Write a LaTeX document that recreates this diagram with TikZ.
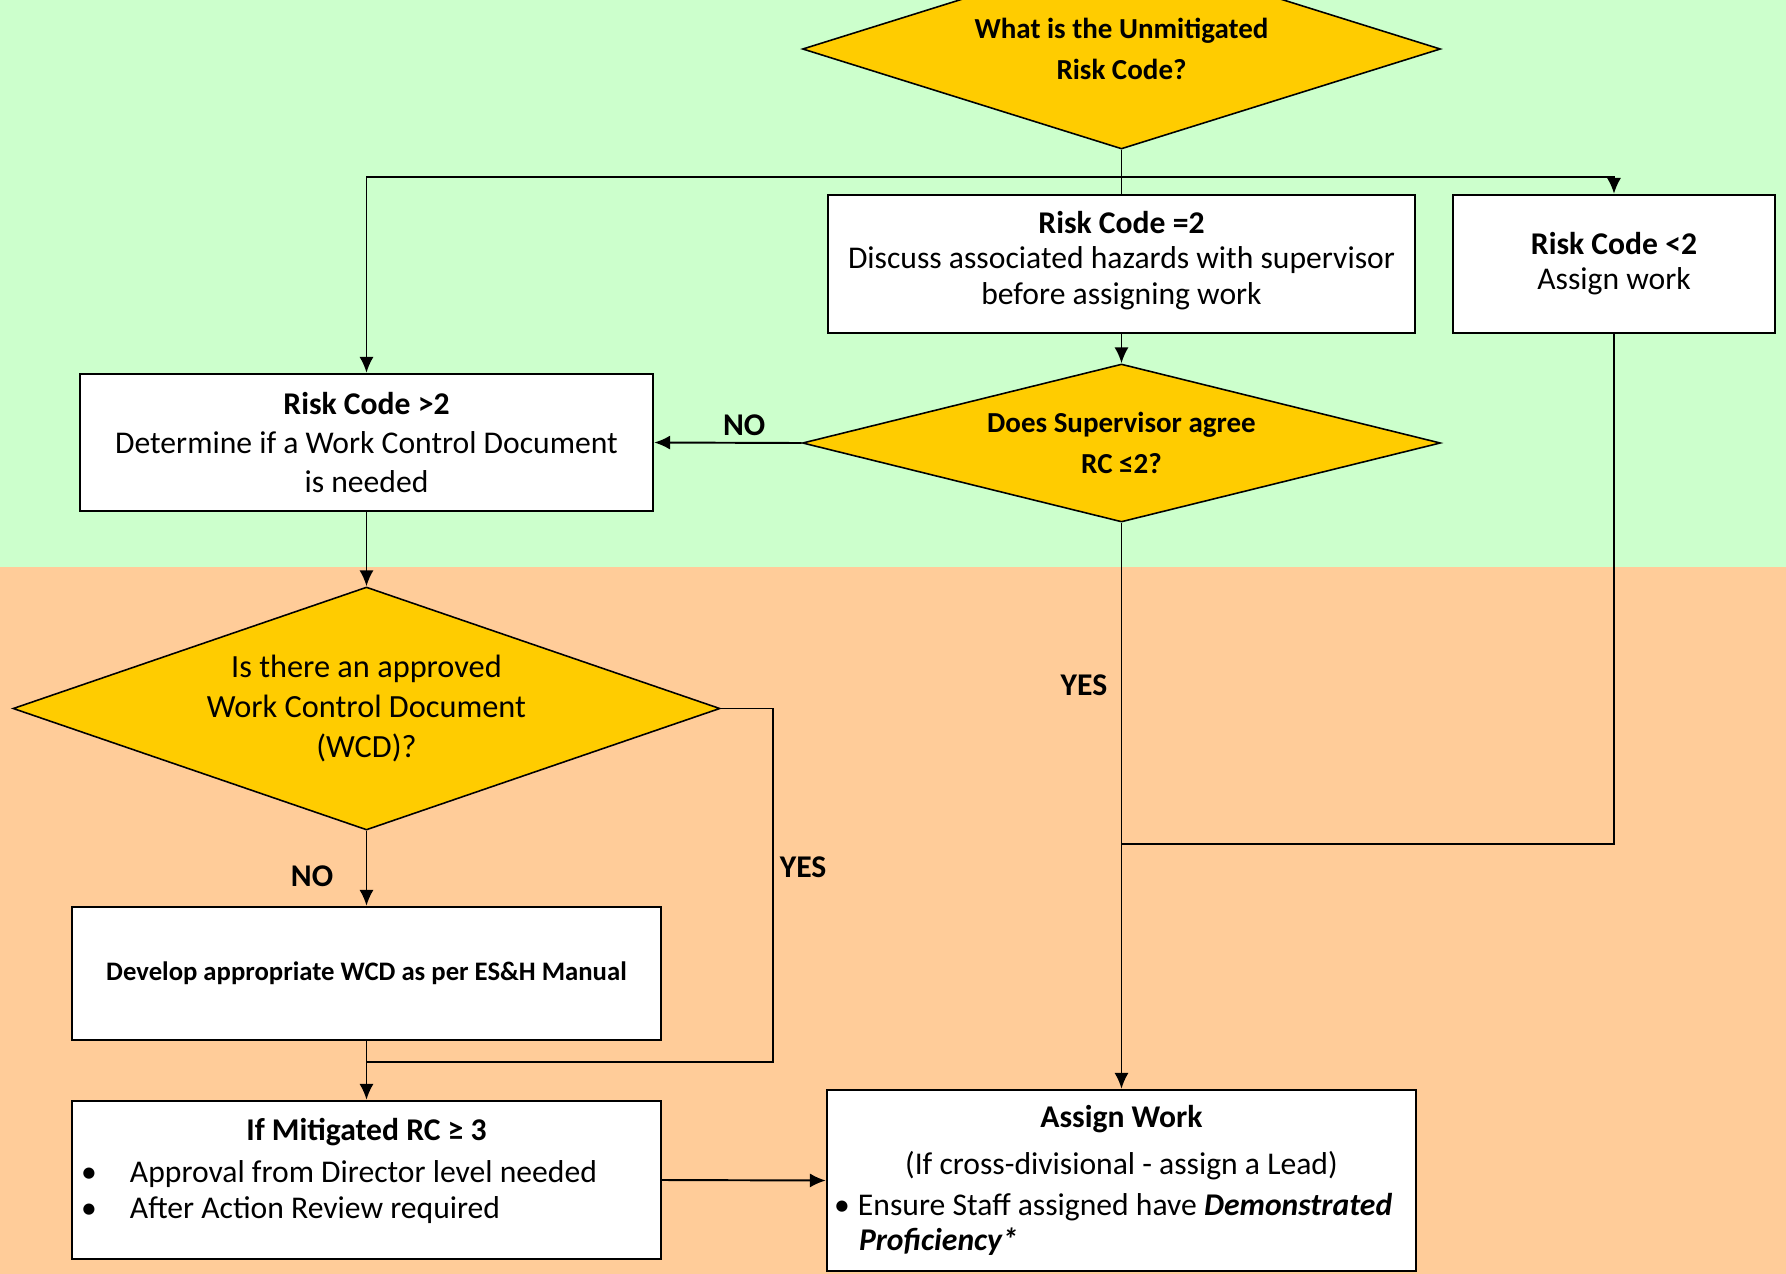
\documentclass[tikz,border=0pt]{standalone}
\usepackage{fontspec}
\setmainfont{Carlito}
\usetikzlibrary{shapes, arrows.meta}

\definecolor{zonegreen}{HTML}{CCFFCC}
\definecolor{zoneorange}{HTML}{FFCC99}
\definecolor{askgold}{HTML}{FFCC00}

\begin{document}
\begin{tikzpicture}[
block/.style={rectangle, align=center, draw=black, fill=white, line width=1.4pt,
inner sep=2pt, font=\fontsize{18}{20}\selectfont},
decision/.style={diamond, align=center, draw=black, fill=askgold, line width=0.9pt,
inner sep=0pt, font=\fontsize{16.5}{23}\selectfont\bfseries},
answer/.style={font=\fontsize{18}{20}\selectfont\bfseries},
line/.style={draw, line width=1.1pt, -{Latex[length=9pt, width=8pt]}},
link/.style={draw, line width=1.1pt}
]
\useasboundingbox (0,0) rectangle (35.72,-25.48);
\fill [zonegreen] (0,0) rectangle (35.72,-11.34);
\fill [zoneorange] (0,-11.34) rectangle (35.72,-25.48);

\node [decision, aspect=3.19, minimum width=12.76cm, minimum height=4cm] (unmitigated) at (22.43,-0.98)
{What is the Unmitigated\\Risk Code?};
\node [block, minimum width=11.74cm, minimum height=2.76cm] (equal-two) at (22.43,-5.28)
{\textbf{Risk Code =2}\\Discuss associated hazards with supervisor\\before assigning work\\[-13pt]};
\node [block, minimum width=6.44cm, minimum height=2.76cm] (below-two) at (32.28,-5.28)
{\textbf{Risk Code <2}\\Assign work};
\node [block, minimum width=11.46cm, minimum height=2.74cm,
font=\fontsize{18}{22.3}\selectfont] (above-two) at (7.33,-8.85)
{\textbf{Risk Code >2}\\Determine if a Work Control Document\\is needed};
\node [decision, aspect=4.04, minimum width=12.76cm, minimum height=3.16cm] (supervisor) at (22.43,-8.86)
{Does Supervisor agree\\RC ≤2?};
\node [decision, aspect=2.91, minimum width=14.14cm, minimum height=4.86cm,
font=\fontsize{18.4}{22.7}\selectfont] (approved) at (7.33,-14.17)
{Is there an approved\\Work Control Document\\(WCD)?};
\node [block, minimum width=11.78cm, minimum height=2.66cm,
font=\fontsize{15.2}{17}\selectfont\bfseries] (develop) at (7.33,-19.47)
{Develop appropriate WCD as per ES\&H Manual};
\node [block, minimum width=11.78cm, minimum height=3.16cm, text width=11.3cm, align=flush left,
font=\fontsize{18}{20.5}\selectfont] (mitigated) at (7.33,-23.6)
{{\centering\textbf{If Mitigated RC ≥ 3}\par}\vspace{3.4pt}
\noindent\hspace*{-0.06cm}\makebox[0.98cm][l]{\textbullet}Approval from Director level needed\par
\noindent\hspace*{-0.06cm}\makebox[0.98cm][l]{\textbullet}After Action Review required\par
\nointerlineskip\vbox to 10pt{}};
\node [block, minimum width=11.78cm, minimum height=3.62cm, text width=11.5cm, align=flush left] (assign) at (22.43,-23.61)
{{\centering\textbf{Assign Work}\\[6.7pt](If cross-divisional - assign a Lead)\par}\vspace{3.3pt}
\hangindent=0.5cm\hangafter=1\noindent\makebox[0.48cm][l]{\textbullet}%
\mbox{Ensure Staff assigned have \textbf{\textit{Demonstrated}}}\newline
\textbf{\textit{Proficiency*}}\par};

\coordinate (fork) at (22.43,-3.54);
\coordinate (yes-turn) at (15.46,-21.24);
\coordinate (join) at (7.33,-21.24);
\coordinate (merge) at (22.43,-16.88);

\path [link] (unmitigated.south) -- (equal-two.north);
\path [line] (fork) -| (above-two.north);
\path [line] (fork) -| (below-two.north);
\path [line] (equal-two.south) -- (supervisor.north);
\path [line] (supervisor.west) -- node [answer, above, pos=0.39] {NO} (above-two.east);
\path [line] (above-two.south) -- (approved.north);
\path [line] (approved.south) -- node [answer, left=0.53cm, pos=0.6] {NO} (develop.north);
\path [link] (approved.east) -| node [answer, right, pos=0.725] {YES} (yes-turn) -- (join);
\path [line] (develop.south) -- (mitigated.north);
\path [line] (supervisor.south) -- node [answer, left=0.15cm, pos=0.287] {YES} (assign.north);
\path [link] (below-two.south) |- (merge);
\path [line] (mitigated.east) -- (assign.west);
\end{tikzpicture}
\end{document}
